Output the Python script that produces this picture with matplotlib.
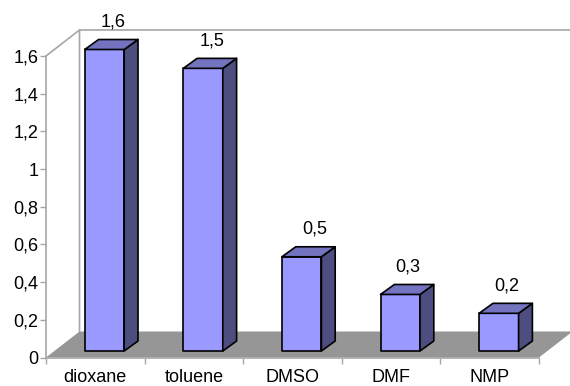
import matplotlib
matplotlib.use('Agg')
import numpy as np
import matplotlib.pyplot as plt
from matplotlib.patches import Polygon

solvents = ['dioxane', 'toluene', 'DMSO', 'DMF', 'NMP']
values = [1.6, 1.5, 0.5, 0.3, 0.2]
value_labels = ['1,6', '1,5', '0,5', '0,3', '0,2']
y_ticks = [0, 0.2, 0.4, 0.6, 0.8, 1, 1.2, 1.4, 1.6]
y_labels = ['0', '0,2', '0,4', '0,6', '0,8', '1', '1,2', '1,4', '1,6']

# 3d look, in data units
wall_dx = 0.34
wall_dy = 0.138
bar_w = 0.40
bar_shift = 0.093
bar_base = 0.0345
depth_x = 0.14
depth_y = 0.053

# sideways nudge of the value labels, points
label_nudge = [1, 1.5, 4.5, 0.7, 0.7]

plt.rcParams['font.family'] = ['Liberation Sans', 'DejaVu Sans']
plt.rcParams['font.size'] = 13

fig = plt.figure(figsize=(5.7, 3.86), dpi=100)
ax = fig.add_axes([46 / 570, 1 - 357.5 / 386, 493 / 570, 301.5 / 386])
ax.set_xlim(0, 5)
ax.set_ylim(0, 1.6)
for s in ['top', 'right']:
    ax.spines[s].set_visible(False)
for s in ['left', 'bottom']:
    ax.spines[s].set_color('#a6a6a6')
    ax.spines[s].set_linewidth(1.2)

ax.set_yticks(y_ticks, y_labels)
ax.set_xticks(range(6), [''] * 6)
ax.set_xticks(np.arange(5) + 0.5, solvents, minor=True)
ax.tick_params(axis='y', length=4, color='#a6a6a6', width=1, pad=1.5, labelsize=13)
ax.tick_params(axis='x', which='major', length=4, color='#a6a6a6', width=1)
ax.tick_params(axis='x', which='minor', length=0, pad=8, labelsize=13)

# floor and back wall
right = 5 + wall_dx
ax.add_patch(Polygon([(0, 0), (wall_dx, wall_dy), (right, wall_dy), (5, 0)],
                     fc='#969696', ec='none', clip_on=False, zorder=1))
ax.plot([0, wall_dx, wall_dx], [1.6, 1.6 + wall_dy, wall_dy], color='#a6a6a6',
        lw=1.2, clip_on=False, zorder=1)
ax.plot([wall_dx, right], [1.6 + wall_dy, 1.6 + wall_dy], color='#a6a6a6',
        lw=1.2, clip_on=False, zorder=1)

for i, (v, lab) in enumerate(zip(values, value_labels)):
    x0 = i + 0.5 + bar_shift - bar_w / 2
    x1 = x0 + bar_w
    y0 = bar_base
    y1 = bar_base + v
    ax.add_patch(Polygon([(x0, y0), (x1, y0), (x1, y1), (x0, y1)], fc='#9999ff', ec='black',
                         lw=1.2, clip_on=False, zorder=3, joinstyle='round'))
    ax.add_patch(Polygon([(x1, y0), (x1 + depth_x, y0 + depth_y), (x1 + depth_x, y1 + depth_y), (x1, y1)],
                         fc='#4d4d80', ec='black', lw=1.2, clip_on=False, zorder=3, joinstyle='round'))
    ax.add_patch(Polygon([(x0, y1), (x0 + depth_x, y1 + depth_y), (x1 + depth_x, y1 + depth_y), (x1, y1)],
                         fc='#7373bf', ec='black', lw=1.2, clip_on=False, zorder=3, joinstyle='round'))
    ax.annotate(lab, (i + 0.5 + bar_shift + depth_x / 2, y1 + depth_y), xytext=(label_nudge[i], 6.5),
                textcoords='offset points', ha='center', va='bottom', fontsize=13, zorder=4,
                annotation_clip=False)

fig.savefig('out.png', dpi=100)
